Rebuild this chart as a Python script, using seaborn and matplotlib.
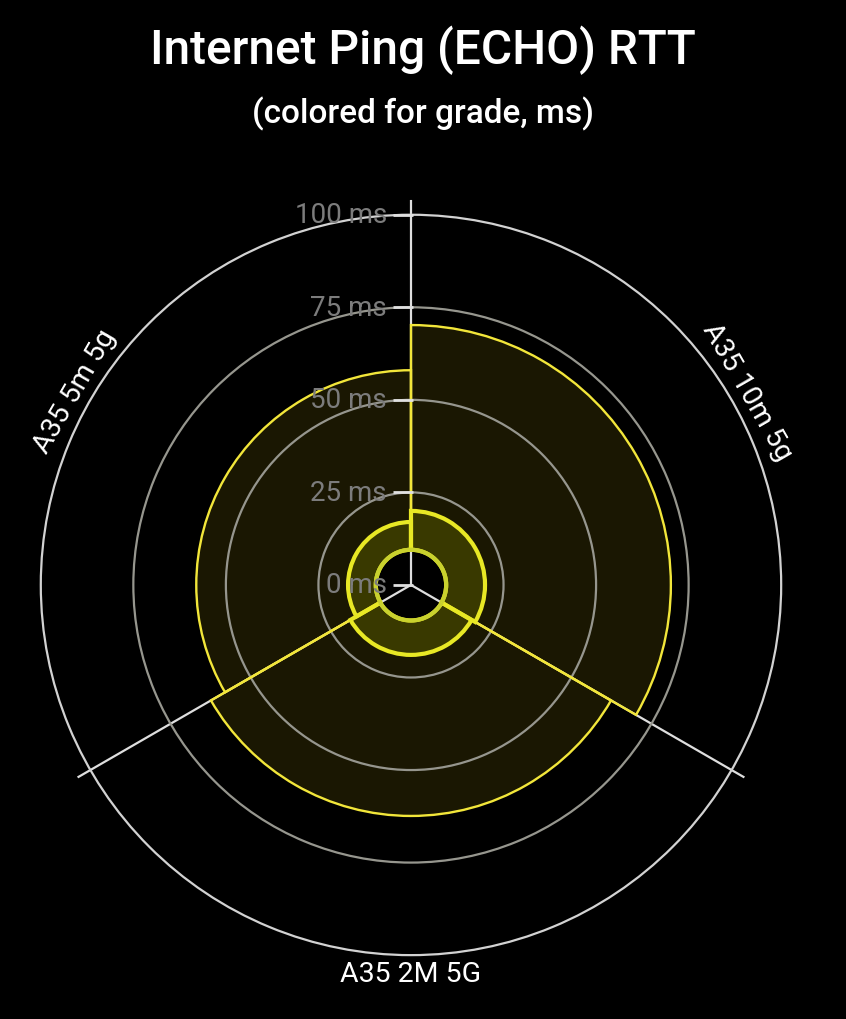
import numpy as np
import matplotlib
matplotlib.use("Agg")
import matplotlib.pyplot as plt
import matplotlib.transforms as mtransforms
import seaborn as sns

# ---- data ----
categories = ["A35 10m 5g", "A35 2M 5G", "A35 5m 5g"]
min_ms = [9.5, 9.6, 9.5]
avg_ms = [20.0, 18.9, 17.0]
max_ms = [70.2, 62.4, 58.0]
r_ticks = [0, 25, 50, 75, 100]
r_tick_labels = ["0 ms", "25 ms", "50 ms", "75 ms", "100 ms"]
title = "Internet Ping (ECHO) RTT"
subtitle = "(colored for grade, ms)"

sns.set_theme(style="dark", rc={
    "figure.facecolor": "black",
    "axes.facecolor": "black",
    "savefig.facecolor": "black",
    "text.color": "white",
})
plt.rcParams["font.family"] = ["Roboto", "DejaVu Sans"]

fig = plt.figure(figsize=(8.46, 10.2), dpi=100)
ax = fig.add_axes([0.0307, 0.0481, 0.9102, 0.7549], projection="polar")
ax.set_facecolor("black")
ax.set_theta_zero_location("N")
ax.set_theta_direction(-1)

n = len(categories)
width = 2 * np.pi / n
theta = np.arange(n) * width + width / 2

yellow = "#f2e63a"
bright = "#e8e825"
inner_col = "#c9d12e"

mins = np.array(min_ms)
avgs = np.array(avg_ms)
maxs = np.array(max_ms)

# fills (below the grid)
ax.bar(theta, maxs - avgs, width=width, bottom=avgs, color=(0.95, 0.85, 0.1, 0.11),
       edgecolor="none", zorder=0.2)
ax.bar(theta, avgs - mins, width=width, bottom=mins, color=(0.9, 0.9, 0.0, 0.25),
       edgecolor="none", zorder=0.2)
ax.set_axisbelow(False)

# edges (above the grid)
ax.bar(theta, maxs - avgs, width=width, bottom=avgs, facecolor="none",
       edgecolor=yellow, linewidth=1.7, zorder=3)
ax.bar(theta, avgs - mins, width=width, bottom=mins, facecolor="none",
       edgecolor=bright, linewidth=3.0, zorder=4)
# inner circle of min values
for i in range(n):
    seg = np.linspace(theta[i] - width / 2, theta[i] + width / 2, 100)
    ax.plot(seg, np.full_like(seg, mins[i]), color=inner_col, lw=3.0, zorder=4.5,
            solid_capstyle="butt")

ax.set_ylim(0, 104)
ax.set_xticks(np.arange(n) * width)
ax.set_xticklabels([])
ax.set_yticks(r_ticks[1:])
ax.set_yticklabels([])
ax.tick_params(axis="y", length=0)
ax.spines["polar"].set_visible(False)

ax.xaxis.grid(True, color="#dedede", linewidth=1.6)
ax.yaxis.grid(True, color="#96968e", linewidth=1.6)
glines = ax.yaxis.get_gridlines()
if glines:
    glines[-1].set_color("#d2d2d2")

# radial tick marks and labels on the top spoke
mark_tr = mtransforms.offset_copy(ax.transData, fig=fig, x=-7.5, y=0, units="dots")
ax.plot([0] * len(r_ticks), r_ticks, linestyle="none", marker="_", markersize=15,
        markeredgewidth=2.0, color="#e0e0e0", transform=mark_tr, zorder=6, clip_on=False)
lab_tr = mtransforms.offset_copy(ax.transData, fig=fig, x=-24, y=0, units="dots")
for r, lab in zip(r_ticks, r_tick_labels):
    ax.text(0, r, lab, transform=lab_tr, ha="right", va="center", color="#7c7c7c",
            fontsize=20, zorder=7, clip_on=False)

# category labels along the circle
for th, cat in zip(theta, categories):
    deg = np.rad2deg(th)  # clockwise from north
    rot = -deg
    if 90 < deg < 270:
        rot = 180 - deg
    ax.text(th, 105.0, cat, ha="center", va="center", rotation=rot,
            rotation_mode="anchor", color="white", fontsize=20.5, clip_on=False)

fig.text(0.5, 0.951, title, ha="center", va="center", color="white",
         fontsize=34.5, fontweight="medium")
fig.text(0.5, 0.888, subtitle, ha="center", va="center", color="white",
         fontsize=24, fontweight="medium")

fig.savefig("out.png", dpi=100, facecolor="black")
